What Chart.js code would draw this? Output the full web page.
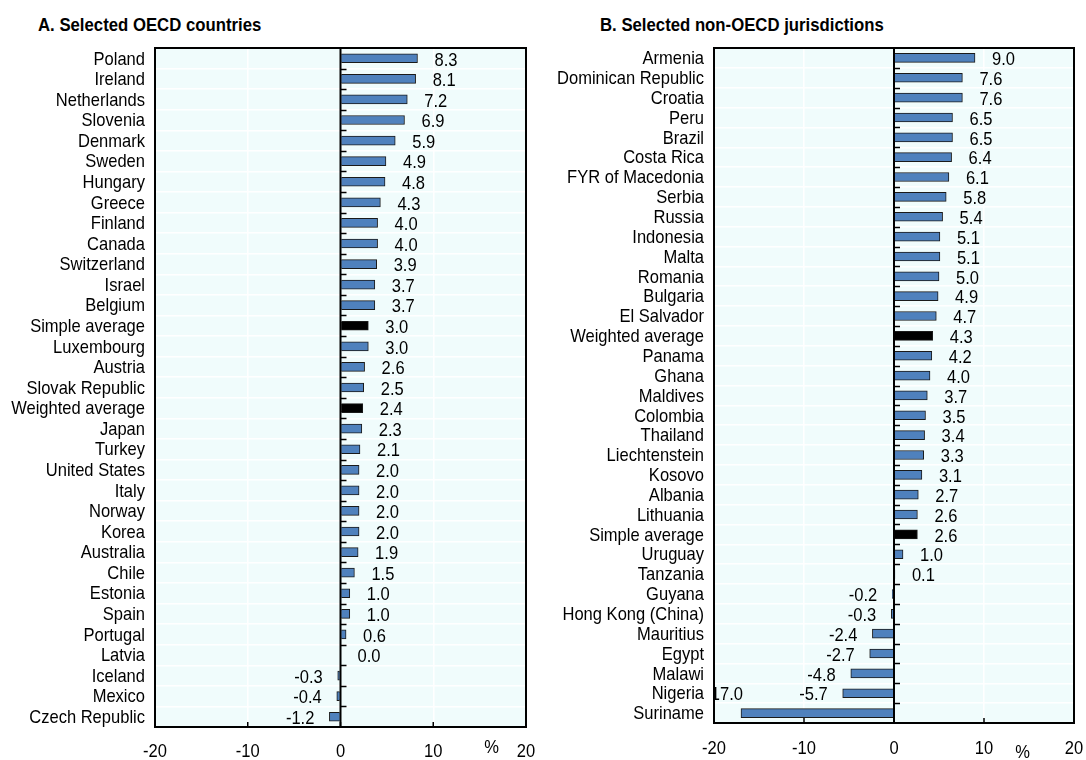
<!DOCTYPE html>
<html>
<head>
<meta charset="utf-8">
<script src="https://cdn.jsdelivr.net/npm/chart.js@4.4.0/dist/chart.umd.min.js"></script>
<style>
    body { margin: 0; background: #fff; width: 1086px; height: 760px; overflow: hidden; position: relative; }
    .panel { position: absolute; top: 0; height: 760px; }
    .ttl { position: absolute; top: 15px; font: bold 18px 'Liberation Sans', Arial, sans-serif; color: #000; white-space: nowrap;
           transform: scaleX(0.93); transform-origin: left center; }
</style>
</head>
<body>
<div class="ttl" style="left:38px">A. Selected OECD countries</div>
<div class="ttl" style="left:600px">B. Selected non-OECD jurisdictions</div>
<div class="panel" style="left:0;width:540px"><canvas id="chartOecd"></canvas></div>
<div class="panel" style="left:540px;width:546px"><canvas id="chartNonOecd"></canvas></div>

<script>
const oecdCountries = ['Poland', 'Ireland', 'Netherlands', 'Slovenia', 'Denmark', 'Sweden', 'Hungary', 'Greece', 'Finland', 'Canada',
    'Switzerland', 'Israel', 'Belgium', 'Simple average', 'Luxembourg', 'Austria', 'Slovak Republic', 'Weighted average', 'Japan', 'Turkey',
    'United States', 'Italy', 'Norway', 'Korea', 'Australia', 'Chile', 'Estonia', 'Spain', 'Portugal', 'Latvia', 'Iceland', 'Mexico', 'Czech Republic'];
const oecdValues = [8.3, 8.1, 7.2, 6.9, 5.9, 4.9, 4.8, 4.3, 4.0, 4.0,
    3.9, 3.7, 3.7, 3.0, 3.0, 2.6, 2.5, 2.4, 2.3, 2.1,
    2.0, 2.0, 2.0, 2.0, 1.9, 1.5, 1.0, 1.0, 0.6, 0.0, -0.3, -0.4, -1.2];

const nonOecdCountries = ['Armenia', 'Dominican Republic', 'Croatia', 'Peru', 'Brazil', 'Costa Rica', 'FYR of Macedonia', 'Serbia', 'Russia', 'Indonesia',
    'Malta', 'Romania', 'Bulgaria', 'El Salvador', 'Weighted average', 'Panama', 'Ghana', 'Maldives', 'Colombia', 'Thailand',
    'Liechtenstein', 'Kosovo', 'Albania', 'Lithuania', 'Simple average', 'Uruguay', 'Tanzania', 'Guyana', 'Hong Kong (China)', 'Mauritius',
    'Egypt', 'Malawi', 'Nigeria', 'Suriname'];
const nonOecdValues = [9.0, 7.6, 7.6, 6.5, 6.5, 6.4, 6.1, 5.8, 5.4, 5.1,
    5.1, 5.0, 4.9, 4.7, 4.3, 4.2, 4.0, 3.7, 3.5, 3.4,
    3.3, 3.1, 2.7, 2.6, 2.6, 1.0, 0.1, -0.2, -0.3, -2.4,
    -2.7, -4.8, -5.7, -17.0];

const xTicks = [-20, -10, 0, 10, 20];

const FONT = "'Liberation Sans', Arial, sans-serif";
const NARROW = 0.87;   // pas de police étroite installée : on compresse à la main
const BAR_BLUE = '#4f81bd';
const PLOT_BG = '#f0fcfc';

function narrowText(ctx, txt, x, y, align) {
    ctx.save();
    ctx.translate(x, y);
    ctx.scale(NARROW, 1);
    ctx.textAlign = align;
    ctx.fillText(txt, 0, 0);
    ctx.restore();
}

// fond, ligne zéro, petits tirets, étiquettes, cadre
const panelDecor = {
    id: 'panelDecor',
    beforeDraw(chart) {
        const a = chart.chartArea, ctx = chart.ctx;
        ctx.save();
        ctx.fillStyle = PLOT_BG;
        ctx.fillRect(a.left, a.top, a.right - a.left, a.bottom - a.top);
        ctx.restore();
    },
    afterDatasetsDraw(chart) {
        const a = chart.chartArea, ctx = chart.ctx;
        const xs = chart.scales.x, ys = chart.scales.y;
        const u = chart.options.plugins.panelDecor;
        const x0 = xs.getPixelForValue(0);
        const labels = chart.data.labels;
        const n = labels.length;
        const row = (a.bottom - a.top) / n;
        ctx.save();
        // ligne zéro
        ctx.strokeStyle = '#000';
        ctx.lineWidth = 2;
        ctx.beginPath();
        ctx.moveTo(x0, a.top); ctx.lineTo(x0, a.bottom);
        ctx.stroke();
        // tirets entre catégories sur l'axe zéro
        ctx.lineWidth = 1.5;
        for (let i = 1; i < n; i++) {
            const y = Math.round(a.top + i * row) + 0.5;
            ctx.beginPath();
            ctx.moveTo(x0, y); ctx.lineTo(x0 + 6, y);
            ctx.stroke();
        }
        // tirets du bas
        xTicks.slice(1, -1).forEach(v => {
            const x = xs.getPixelForValue(v);
            ctx.beginPath();
            ctx.moveTo(x, a.bottom); ctx.lineTo(x, a.bottom - 5);
            ctx.stroke();
        });

        ctx.fillStyle = '#000';
        ctx.font = '19px ' + FONT;
        ctx.textBaseline = 'middle';

        // étiquettes de valeurs (coupées au cadre, comme l'original)
        ctx.save();
        ctx.beginPath();
        ctx.rect(a.left, a.top, a.right - a.left, a.bottom - a.top);
        ctx.clip();
        const meta = chart.getDatasetMeta(0);
        const vals = chart.data.datasets[0].data;
        meta.data.forEach((bar, i) => {
            const v = vals[i];
            const txt = v.toFixed(1);
            const y = bar.y + 2;
            if (v >= 0) {
                narrowText(ctx, txt, bar.x + 17, y, 'left');
            } else {
                const w = ctx.measureText(txt).width * NARROW;
                if (bar.x - 15 - w < a.left) {
                    // pas la place à gauche : au-dessus, calé sur le bout de la barre
                    narrowText(ctx, txt, bar.x + 2, y - row, 'right');
                } else {
                    narrowText(ctx, txt, bar.x - 15, y, 'right');
                }
            }
        });
        ctx.restore();

        // cadre
        ctx.lineWidth = 2;
        ctx.strokeRect(a.left, a.top, a.right - a.left, a.bottom - a.top);

        // noms des pays
        labels.forEach((lab, i) => {
            narrowText(ctx, lab, a.left - 10, ys.getPixelForValue(i) + 1, 'right');
        });

        // graduations de l'axe x
        xTicks.forEach(v => {
            narrowText(ctx, String(v), xs.getPixelForValue(v), u.tickY, 'center');
        });

        // unité
        narrowText(ctx, '%', xs.getPixelForValue(u.unitAt), u.unitY, 'center');
        ctx.restore();
    }
};

function createPanel(canvasId, labels, values, box) {
    const ctx = document.getElementById(canvasId).getContext('2d');
    return new Chart(ctx, {
        type: 'bar',
        data: {
            labels: labels,
            datasets: [{
                data: values,
                backgroundColor: labels.map(l => l.includes('average') ? '#000' : BAR_BLUE),
                borderColor: '#1a1a1a',
                borderWidth: 1,
                borderSkipped: 'start',
                barThickness: 9
            }]
        },
        options: {
            indexAxis: 'y',
            responsive: false,
            animation: false,
            layout: { padding: { top: box.top, right: box.right, left: 0, bottom: 0 } },
            scales: {
                x: {
                    min: -20, max: 20,
                    afterBuildTicks: s => { s.ticks = xTicks.map(v => ({ value: v })); },
                    afterFit: s => { s.height = box.xHeight; },
                    grid: {
                        color: c => (c.tick && (c.tick.value === -10 || c.tick.value === 10)) ? '#ffffff' : 'rgba(0,0,0,0)',
                        lineWidth: 1.5,
                        drawTicks: false
                    },
                    border: { display: false },
                    ticks: { display: false }
                },
                y: {
                    afterFit: s => { s.width = box.left; },
                    grid: { color: '#ffffff', lineWidth: 1.5, drawTicks: false, offset: true },
                    border: { display: false },
                    ticks: { display: false, autoSkip: false }
                }
            },
            plugins: {
                legend: { display: false },
                tooltip: { enabled: false },
                panelDecor: { unitAt: box.unitAt, unitY: box.unitY, tickY: box.tickY }
            }
        },
        plugins: [panelDecor]
    });
}

function sizeCanvas(id, w, h) {
    const c = document.getElementById(id);
    c.width = w; c.height = h;
    c.style.width = w + 'px'; c.style.height = h + 'px';
}

sizeCanvas('chartOecd', 540, 760);
sizeCanvas('chartNonOecd', 546, 760);

createPanel('chartOecd', oecdCountries, oecdValues,
    { top: 48, right: 14, left: 155, xHeight: 33, unitAt: 16.3, unitY: 748, tickY: 752 });
createPanel('chartNonOecd', nonOecdCountries, nonOecdValues,
    { top: 48, right: 12, left: 174, xHeight: 37, unitAt: 14.3, unitY: 753, tickY: 749 });
</script>
</body>
</html>
